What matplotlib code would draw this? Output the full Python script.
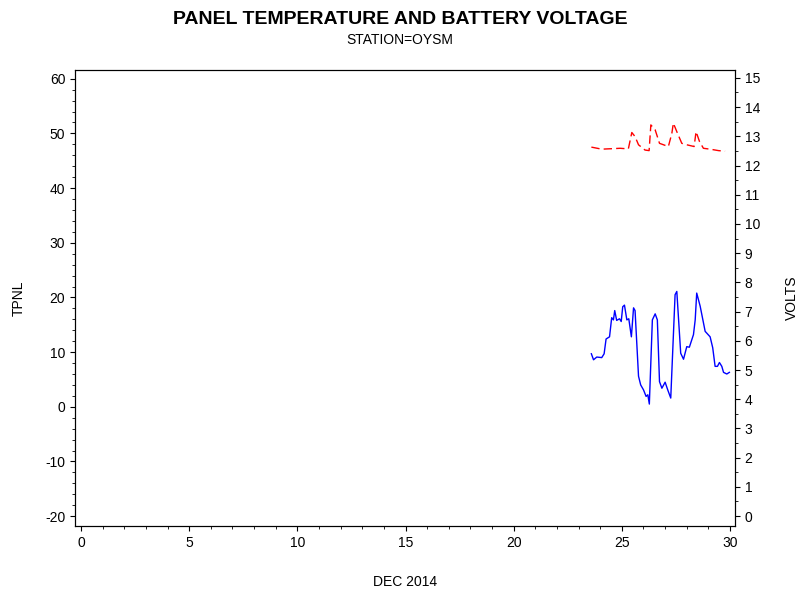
import matplotlib
matplotlib.use("Agg")
import matplotlib.pyplot as plt
from matplotlib.ticker import MultipleLocator

plt.rcParams['font.family'] = ['Liberation Sans', 'DejaVu Sans']
plt.rcParams['axes.unicode_minus'] = False

t_days = [23.59,23.69,23.84,24.07,24.18,24.27,24.43,24.53,24.61,24.67,24.76,24.89,24.97,25.04,25.12,25.23,25.32,25.44,25.54,25.61,25.77,25.87,26.0,26.12,26.2,26.27,26.41,26.54,26.64,26.74,26.85,27.0,27.12,27.26,27.46,27.54,27.72,27.85,28.0,28.12,28.31,28.39,28.46,28.62,28.85,29.08,29.2,29.31,29.42,29.51,29.62,29.7,29.85,29.97]
tpnl = [9.7,8.6,9.1,9.0,9.7,12.4,12.8,16.3,15.9,17.6,15.8,16.1,15.6,18.3,18.6,15.9,16.1,12.8,18.1,17.6,5.6,4.0,3.1,1.9,2.2,0.5,15.9,17.0,15.9,4.6,3.4,4.5,3.1,1.6,20.5,21.1,9.8,8.7,11.0,10.9,13.2,15.9,20.8,18.4,13.8,12.8,10.8,7.4,7.4,8.1,7.4,6.3,6.0,6.3]
v_days = [23.59,24.07,24.92,25.3,25.46,25.61,25.77,26.07,26.26,26.34,26.54,26.74,27.15,27.31,27.38,27.54,27.77,28.0,28.34,28.43,28.59,28.77,29.08,29.47,29.77]
volts = [12.63,12.56,12.59,12.57,13.13,12.99,12.71,12.53,12.51,13.39,13.22,12.76,12.65,13.1,13.45,13.16,12.76,12.71,12.65,13.16,12.82,12.59,12.56,12.51,12.49]

fig = plt.figure(figsize=(8, 6), dpi=100)
ax = fig.add_axes([75/800, 1-526/600, 660/800, 456/600])
ax.plot(t_days, tpnl, color='blue', lw=1)
ax.set_xlim(-0.28, 30.23)
ax.set_ylim(-21.8, 61.6)
ax.set_xticks(range(0, 31, 5))
ax.xaxis.set_minor_locator(MultipleLocator(1))
ax.set_yticks(range(-20, 61, 10))
ax.yaxis.set_minor_locator(MultipleLocator(2))
ax.set_ylabel('TPNL', fontsize=10, labelpad=14)
ax.set_xlabel('DEC 2014', fontsize=10, labelpad=18)
ax.tick_params(labelsize=10)

ax2 = ax.twinx()
ax2.plot(v_days, volts, color='red', lw=1, ls=(0, (6, 3)))
ax2.set_ylim(-0.34, 15.27)
ax2.set_yticks(range(0, 16))
ax2.yaxis.set_minor_locator(MultipleLocator(0.5))
ax2.set_ylabel('VOLTS', fontsize=10, labelpad=18)
ax2.tick_params(labelsize=10)

fig.text(0.5, 0.982, 'PANEL TEMPERATURE AND BATTERY VOLTAGE', ha='center', va='top', fontsize=14, fontweight='bold')
fig.text(0.5, 0.945, 'STATION=OYSM', ha='center', va='top', fontsize=10)
fig.savefig('out.png', dpi=100)
